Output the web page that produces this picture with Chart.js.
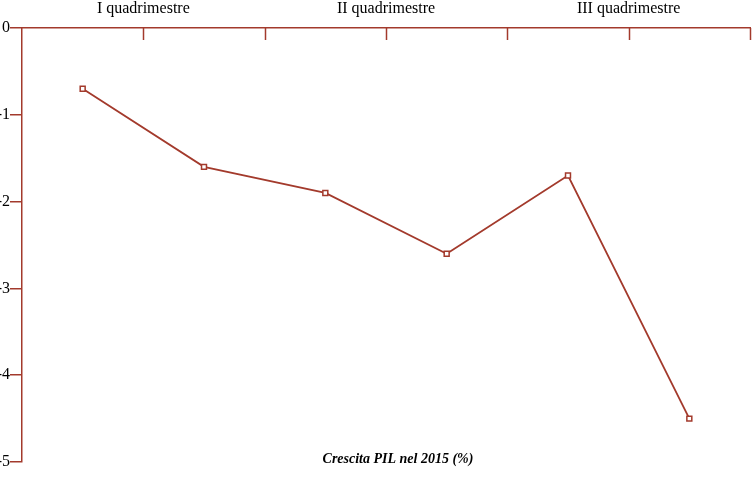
<!DOCTYPE html>
<html><head><meta charset="utf-8">
<script src="https://cdn.jsdelivr.net/npm/chart.js@4"></script>
<style>body{margin:0;background:#fff}#w{width:755px;height:484px}</style>
</head><body><div id="w"><canvas id="c"></canvas></div>
<script>
const categories = ['1','2','3','4','5','6'];
const groupLabels = ['I quadrimestre','II quadrimestre','III quadrimestre'];
const values = [-0.7,-1.6,-1.9,-2.6,-1.7,-4.5];
const yTicks = [0,-1,-2,-3,-4,-5];
const title = 'Crescita PIL nel 2015 (%)';
const col = '#a33a2c';
const serif = 'Liberation Serif';
const deco = {
  id:'deco',
  afterDraw(ch){
    const c=ch.ctx, x=ch.scales.x2, a=ch.chartArea;
    c.save(); c.strokeStyle=col; c.lineWidth=1.5;
    for(let i=1;i<=6;i++){const px=Math.round(x.getPixelForValue(i))+0.5;
      c.beginPath(); c.moveTo(px,a.top); c.lineTo(px,a.top+12); c.stroke();}
    c.fillStyle='#000'; c.font='italic bold 14px "'+serif+'"'; c.textAlign='center'; c.textBaseline='middle';
    c.fillText(title,(a.left+a.right)/2+12,a.bottom-3);
    c.restore();
  }
};
new Chart(document.getElementById('c'),{
  type:'line',
  data:{labels:categories,datasets:[{data:values,borderColor:col,borderWidth:1.8,
    pointStyle:'rect',pointRadius:3.5,pointBackgroundColor:'#fff',pointBorderColor:col,pointBorderWidth:1.5,
    pointHoverRadius:3.5,tension:0,clip:false}]},
  options:{responsive:true,maintainAspectRatio:false,animation:false,
    layout:{padding:{right:5,bottom:22}},
    plugins:{legend:{display:false},tooltip:{enabled:false}},
    scales:{
      x:{type:'category',position:'top',offset:true,display:true,
        grid:{display:false},border:{display:false},ticks:{display:false},
        afterFit(s){s.height=0;}},
      x2:{type:'linear',position:'top',min:0,max:6,
        grid:{display:false},border:{color:col,width:1.5},
        afterBuildTicks(s){s.ticks=[1,3,5].map(v=>({value:v}));},
        ticks:{color:'#000',font:{family:serif,size:16},padding:2,maxRotation:0,autoSkip:false,
          callback:(v)=>groupLabels[(v-1)/2]},
        afterFit(s){s.height=28;}},
      y:{min:-5,max:0,
        grid:{drawOnChartArea:false,color:col,tickLength:12,lineWidth:1.5},border:{color:col,width:1.5},
        afterBuildTicks(s){s.ticks=yTicks.map(v=>({value:v}));},
        ticks:{color:'#000',font:{family:serif,size:16},padding:0},
        afterFit(s){s.width=22;}}
    }},
  plugins:[deco]
});
</script></body></html>
